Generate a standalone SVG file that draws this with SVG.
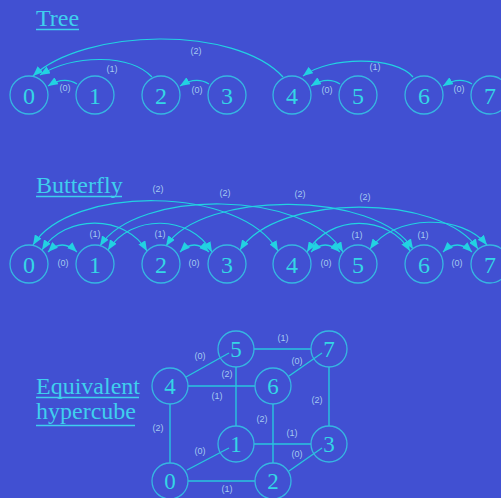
<svg xmlns="http://www.w3.org/2000/svg" width="501" height="498" viewBox="0 0 501 498">
<defs>
<marker id="ah" viewBox="0 0 10 8" refX="10" refY="4" markerWidth="10" markerHeight="8" markerUnits="userSpaceOnUse" orient="auto-start-reverse"><path d="M0,0 L10,4 L0,8 Z" fill="#22d2e2"/></marker>
</defs>
<style>
.bg{fill:#4150d2}
.title{font-family:"Liberation Serif","Times New Roman",serif;font-size:24px;fill:#3fcfee}
.ul{stroke:#3fcfee;stroke-width:1.5}
.node circle{fill:none;stroke:#36b6e2;stroke-width:1.3}
.node text{font-family:"Liberation Serif","Times New Roman",serif;font-size:24px;fill:#34d6e6;text-anchor:middle}
.hc circle{fill:none;stroke:#36b6e2;stroke-width:1.3}
.hc text{font-family:"Liberation Serif","Times New Roman",serif;font-size:23px;fill:#34d6e6;text-anchor:middle}
.arc{fill:none;stroke:#22d2e2;stroke-width:1.2;marker-end:url(#ah)}
.arc2{fill:none;stroke:#22d2e2;stroke-width:1.2;marker-end:url(#ah);marker-start:url(#ah)}
.edge{stroke:#28c6de;stroke-width:1.4}
.lbl{font-family:"Liberation Sans",Arial,sans-serif;font-size:9px;fill:#a4caf0;text-anchor:middle}
</style>
<rect class="bg" x="0" y="0" width="501" height="498"/>

<!-- Titles -->
<g id="titles">
<text class="title" x="36" y="26">Tree</text>
<line class="ul" x1="36" y1="29.5" x2="79" y2="29.5"/>
<text class="title" x="36" y="193">Butterfly</text>
<line class="ul" x1="36" y1="196.5" x2="122" y2="196.5"/>
<text class="title" x="36" y="394">Equivalent</text>
<line class="ul" x1="36" y1="397.5" x2="139" y2="397.5"/>
<text class="title" x="36" y="419">hypercube</text>
<line class="ul" x1="36" y1="425.5" x2="135" y2="425.5"/>
</g>

<!-- Tree connectors -->
<g id="tree-connectors">
<path class="arc" d="M77,84 Q64,76 48,86"/>
<path class="arc" d="M152,77 C130,54 75,54 40,75"/>
<path class="arc" d="M283,77 C235,25 85,28 33,76"/>
<path class="arc" d="M209,84 Q196,76 180,86"/>
<path class="arc" d="M340,84 Q327,76 311,86"/>
<path class="arc" d="M413,77 C395,56 330,56 303,76"/>
<path class="arc" d="M472,84 Q459,76 443,86"/>
<text class="lbl" x="65" y="91">(0)</text>
<text class="lbl" x="112" y="72">(1)</text>
<text class="lbl" x="196" y="54">(2)</text>
<text class="lbl" x="197" y="93">(0)</text>
<text class="lbl" x="327" y="93">(0)</text>
<text class="lbl" x="375" y="70">(1)</text>
<text class="lbl" x="459" y="92">(0)</text>
</g>

<!-- Tree nodes -->
<g id="t0" class="node"><circle cx="29" cy="95" r="19"/><text x="29" y="104">0</text></g>
<g id="t1" class="node"><circle cx="95" cy="95" r="19"/><text x="95" y="104">1</text></g>
<g id="t2" class="node"><circle cx="161" cy="95" r="19"/><text x="161" y="104">2</text></g>
<g id="t3" class="node"><circle cx="227" cy="95" r="19"/><text x="227" y="104">3</text></g>
<g id="t4" class="node"><circle cx="292" cy="95" r="19"/><text x="292" y="104">4</text></g>
<g id="t5" class="node"><circle cx="358" cy="95" r="19"/><text x="358" y="104">5</text></g>
<g id="t6" class="node"><circle cx="424" cy="95" r="19"/><text x="424" y="104">6</text></g>
<g id="t7" class="node"><circle cx="490" cy="95" r="19"/><text x="490" y="104">7</text></g>

<!-- Butterfly connectors -->
<g id="butterfly-connectors">
<!-- level 0 -->
<path class="arc2" d="M48,252 Q62,238 77,252"/>
<path class="arc2" d="M180,252 Q194,238 209,252"/>
<path class="arc2" d="M311,252 Q325,238 340,252"/>
<path class="arc2" d="M443,252 Q457,238 472,252"/>
<!-- level 1 -->
<path class="arc2" d="M42,250 C65,214 125,214 147,251"/>
<path class="arc2" d="M108,250 C131,214 190,214 212,252"/>
<path class="arc2" d="M307,252 C330,214 388,214 410,251"/>
<path class="arc2" d="M370,249 C395,214 462,214 487,245"/>
<!-- level 2 -->
<path class="arc2" d="M33,245 C70,185 240,185 278,251"/>
<path class="arc2" d="M100,246 C137,189 305,189 343,252"/>
<path class="arc2" d="M166,246 C203,190 375,190 413,249"/>
<path class="arc2" d="M240,250 C277,193 441,193 478,249"/>
<text class="lbl" x="63" y="266">(0)</text>
<text class="lbl" x="194" y="266">(0)</text>
<text class="lbl" x="326" y="266">(0)</text>
<text class="lbl" x="457" y="266">(0)</text>
<text class="lbl" x="95" y="237">(1)</text>
<text class="lbl" x="160" y="237">(1)</text>
<text class="lbl" x="357" y="238">(1)</text>
<text class="lbl" x="423" y="238">(1)</text>
<text class="lbl" x="158" y="192">(2)</text>
<text class="lbl" x="225" y="196">(2)</text>
<text class="lbl" x="300" y="197">(2)</text>
<text class="lbl" x="365" y="200">(2)</text>
</g>

<!-- Butterfly nodes -->
<g id="b0" class="node"><circle cx="29" cy="264" r="19"/><text x="29" y="273">0</text></g>
<g id="b1" class="node"><circle cx="95" cy="264" r="19"/><text x="95" y="273">1</text></g>
<g id="b2" class="node"><circle cx="161" cy="264" r="19"/><text x="161" y="273">2</text></g>
<g id="b3" class="node"><circle cx="227" cy="264" r="19"/><text x="227" y="273">3</text></g>
<g id="b4" class="node"><circle cx="292" cy="264" r="19"/><text x="292" y="273">4</text></g>
<g id="b5" class="node"><circle cx="358" cy="264" r="19"/><text x="358" y="273">5</text></g>
<g id="b6" class="node"><circle cx="424" cy="264" r="19"/><text x="424" y="273">6</text></g>
<g id="b7" class="node"><circle cx="490" cy="264" r="19"/><text x="490" y="273">7</text></g>

<!-- Hypercube connectors -->
<g id="hypercube-connectors">
<line class="edge" x1="186" y1="377" x2="229" y2="353"/>
<line class="edge" x1="289" y1="376" x2="322" y2="353"/>
<line class="edge" x1="187" y1="470" x2="229" y2="448"/>
<line class="edge" x1="289" y1="471" x2="322" y2="448"/>
<line class="edge" x1="188" y1="386" x2="255" y2="386"/>
<line class="edge" x1="254" y1="349" x2="311" y2="349"/>
<line class="edge" x1="254" y1="444" x2="311" y2="444"/>
<line class="edge" x1="188" y1="481" x2="255" y2="481"/>
<line class="edge" x1="170" y1="404" x2="170" y2="463"/>
<line class="edge" x1="236" y1="367" x2="236" y2="426"/>
<line class="edge" x1="273" y1="404" x2="273" y2="463"/>
<line class="edge" x1="329" y1="367" x2="329" y2="426"/>
<text class="lbl" x="200" y="359">(0)</text>
<text class="lbl" x="227" y="377">(2)</text>
<text class="lbl" x="217" y="399">(1)</text>
<text class="lbl" x="158" y="431">(2)</text>
<text class="lbl" x="200" y="454">(0)</text>
<text class="lbl" x="227" y="492">(1)</text>
<text class="lbl" x="283" y="341">(1)</text>
<text class="lbl" x="297" y="364">(0)</text>
<text class="lbl" x="262" y="422">(2)</text>
<text class="lbl" x="317" y="403">(2)</text>
<text class="lbl" x="292" y="436">(1)</text>
<text class="lbl" x="297" y="457">(0)</text>
</g>

<!-- Hypercube nodes -->
<g id="h0" class="hc"><circle cx="170" cy="481" r="18"/><text x="170" y="489">0</text></g>
<g id="h1" class="hc"><circle cx="236" cy="444" r="18"/><text x="236" y="452">1</text></g>
<g id="h2" class="hc"><circle cx="273" cy="481" r="18"/><text x="273" y="489">2</text></g>
<g id="h3" class="hc"><circle cx="329" cy="444" r="18"/><text x="329" y="452">3</text></g>
<g id="h4" class="hc"><circle cx="170" cy="386" r="18"/><text x="170" y="394">4</text></g>
<g id="h5" class="hc"><circle cx="236" cy="349" r="18"/><text x="236" y="357">5</text></g>
<g id="h6" class="hc"><circle cx="273" cy="386" r="18"/><text x="273" y="394">6</text></g>
<g id="h7" class="hc"><circle cx="329" cy="349" r="18"/><text x="329" y="357">7</text></g>
</svg>
